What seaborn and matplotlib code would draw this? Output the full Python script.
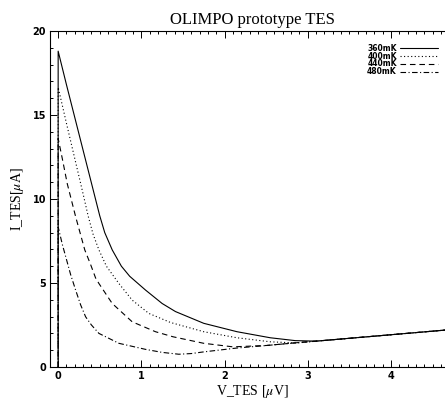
import numpy as np
import pandas as pd
import matplotlib
matplotlib.use("Agg")
import matplotlib.pyplot as plt
import seaborn as sns
from matplotlib.ticker import MultipleLocator

# I-V curves (V in uV, I in uA)
v_360 = [0, 0, 0.10, 0.20, 0.30, 0.40, 0.50, 0.56, 0.65, 0.76, 0.86, 1.05, 1.25, 1.41,
         1.75, 2.15, 2.55, 2.85, 3.10, 3.60, 4.00, 4.40, 4.80]
i_360 = [0, 18.8, 16.8, 14.85, 12.9, 10.95, 9.0, 8.0, 6.97, 6.0, 5.4, 4.58, 3.78, 3.3,
         2.6, 2.1, 1.74, 1.57, 1.54, 1.75, 1.92, 2.09, 2.26]

v_400 = [0, 0, 0.10, 0.20, 0.30, 0.36, 0.42, 0.49, 0.58, 0.73, 0.89, 1.09, 1.35, 1.75,
         2.15, 2.55, 2.87, 3.20, 3.60, 4.00, 4.40, 4.80]
i_400 = [0, 16.65, 14.5, 12.4, 10.3, 9.0, 7.9, 6.97, 6.0, 4.97, 3.98, 3.19, 2.65, 2.1,
         1.74, 1.5, 1.43, 1.58, 1.75, 1.92, 2.09, 2.26]

v_440 = [0, 0, 0.05, 0.11, 0.21, 0.32, 0.39, 0.45, 0.49, 0.65, 0.89, 1.17, 1.38, 1.75,
         2.10, 2.50, 2.90, 3.20, 3.60, 4.00, 4.40, 4.80]
i_440 = [0, 13.6, 12.4, 10.9, 8.95, 6.97, 6.1, 5.3, 4.97, 3.78, 2.69, 2.1, 1.8, 1.41,
         1.2, 1.28, 1.46, 1.58, 1.75, 1.92, 2.09, 2.26]

v_480 = [0, 0, 0.05, 0.10, 0.15, 0.21, 0.27, 0.33, 0.40, 0.49, 0.73, 1.05, 1.25, 1.45,
         1.60, 1.75, 2.15, 2.55, 2.90, 3.20, 3.60, 4.00, 4.40, 4.80]
i_480 = [0, 8.34, 7.3, 6.4, 5.5, 4.58, 3.7, 2.99, 2.5, 2.0, 1.41, 1.05, 0.87, 0.76,
         0.8, 0.9, 1.13, 1.3, 1.46, 1.58, 1.75, 1.92, 2.09, 2.26]

labels = ["360mK", "400mK", "440mK", "480mK"]
styles = ["-", (0, (1, 2.2)), (0, (5, 3.5)), (0, (5, 2.2, 1, 2.2))]

sns.set_style("ticks", {"axes.edgecolor": "black", "xtick.color": "black",
                        "ytick.color": "black", "text.color": "black",
                        "axes.labelcolor": "black"})
plt.rcParams["font.family"] = ["Liberation Serif", "DejaVu Serif"]
plt.rcParams["mathtext.fontset"] = "stix"

fig = plt.figure(figsize=(4.45, 4.01), dpi=100)
ax = fig.add_axes([49.5 / 445, 34 / 401, 405.5 / 445, 336 / 401])

for v, i, lab, ls in zip([v_360, v_400, v_440, v_480],
                         [i_360, i_400, i_440, i_480], labels, styles):
    df = pd.DataFrame({"V": v, "I": i})
    sns.lineplot(data=df, x="V", y="I", sort=False, estimator=None, color="black",
                 linewidth=0.8, linestyle=ls, label=lab, ax=ax)

ax.set_xlim(-0.104, 4.77)
ax.set_ylim(0, 20)
ax.xaxis.set_major_locator(MultipleLocator(1))
ax.xaxis.set_minor_locator(MultipleLocator(0.1))
ax.yaxis.set_major_locator(MultipleLocator(5))
ax.yaxis.set_minor_locator(MultipleLocator(1))
ax.tick_params(which="both", direction="in", top=True, right=False, width=0.7,
               color="black", labelcolor="black")
ax.tick_params(which="major", length=5)
ax.tick_params(which="minor", length=2.5)
ax.tick_params(axis="x", pad=3)
ax.tick_params(axis="y", pad=2.5)
for lbl in ax.get_xticklabels() + ax.get_yticklabels():
    lbl.set_fontfamily("DejaVu Sans")
    lbl.set_fontweight("bold")
    lbl.set_fontsize(7)
for side in ["left", "bottom", "top"]:
    ax.spines[side].set_linewidth(0.8)
    ax.spines[side].set_color("black")
ax.spines["right"].set_visible(False)

ax.set_title("OLIMPO prototype TES", fontsize=12, pad=5)
ax.set_xlabel("V_TES [$\\mu$V]", fontsize=10, labelpad=1.5)
ax.set_ylabel("I_TES[$\\mu$A]", fontsize=10, labelpad=5)

ax.legend(loc="upper right", bbox_to_anchor=(0.958, 0.962), frameon=False,
          markerfirst=False, handlelength=5, handletextpad=0.4, labelspacing=-0.15,
          borderpad=0, borderaxespad=0,
          prop={"family": "DejaVu Sans", "weight": "bold", "size": 5.5})

plt.savefig("out.png", dpi=100)
